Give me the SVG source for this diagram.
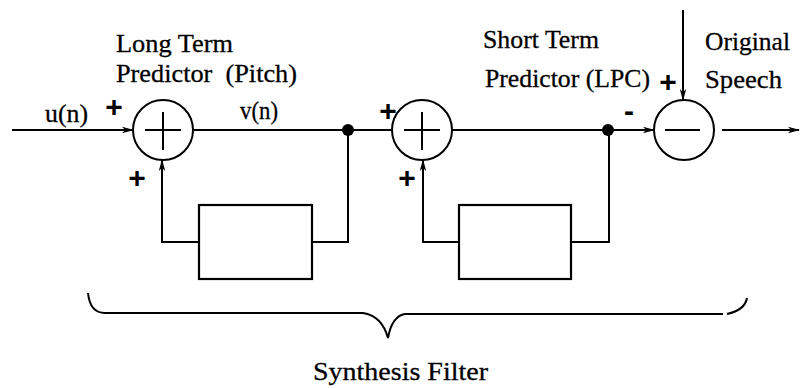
<svg xmlns="http://www.w3.org/2000/svg" width="801" height="388" viewBox="0 0 801 388">
<defs>
<marker id="arr" viewBox="0 0 12 8" refX="11" refY="4" markerWidth="12" markerHeight="8" markerUnits="userSpaceOnUse" orient="auto">
<path d="M0,0.8 L12,4 L0,7.2 L3,4 Z" fill="#000"/>
</marker>
</defs>
<style>
.ln{fill:none;stroke:#000;stroke-width:2}
.sum{fill:#fff;stroke:#000;stroke-width:2}
.box{fill:#fff;stroke:#000;stroke-width:2.2}
.t{font-family:"Liberation Serif","Times New Roman",serif;font-size:26px;fill:#000;stroke:#000;stroke-width:0.3}
.pl{font-family:"Liberation Sans",Arial,sans-serif;font-size:30px;font-weight:bold;fill:#000}
</style>
<rect width="801" height="388" fill="#fff"/>
<g id="connectors">
<line class="ln" x1="12" y1="130" x2="133" y2="130" marker-end="url(#arr)"/>
<line class="ln" x1="193" y1="130" x2="392" y2="130"/>
<line class="ln" x1="452" y1="130" x2="654" y2="130" marker-end="url(#arr)"/>
<line class="ln" x1="722" y1="130" x2="799" y2="130" marker-end="url(#arr)"/>
<line class="ln" x1="683" y1="10" x2="683" y2="100" marker-end="url(#arr)"/>
<polyline class="ln" points="348,130 348,242 312,242"/>
<polyline class="ln" points="199,242 162,242 162,160" marker-end="url(#arr)"/>
<polyline class="ln" points="609,130 609,242 571,242"/>
<polyline class="ln" points="459,242 423,242 423,160" marker-end="url(#arr)"/>
<circle cx="348" cy="130" r="6" fill="#000"/>
<circle cx="608" cy="130" r="6" fill="#000"/>
</g>
<g id="sum1">
<circle class="sum" cx="163" cy="130" r="30"/>
<path class="ln" d="M145,130 H181 M163,112 V150"/>
</g>
<g id="sum2">
<circle class="sum" cx="422" cy="130" r="30"/>
<path class="ln" d="M404,130 H440 M422,112 V150"/>
</g>
<g id="diff">
<circle class="sum" cx="684" cy="130" r="30"/>
<path class="ln" d="M665,130 H700"/>
</g>
<g id="ltp-box"><rect class="box" x="199" y="205" width="113" height="74"/></g>
<g id="stp-box"><rect class="box" x="459" y="205" width="112" height="74"/></g>
<g id="brace">
<path class="ln" d="M88,293 Q90,313 105,313 H363 Q382,316 388,338 Q392,316 405,314 H723"/>
<path class="ln" d="M727,314 Q745,310 747,298"/>
</g>
<g id="labels">
<text class="t" x="116" y="52" textLength="117" lengthAdjust="spacingAndGlyphs">Long Term</text>
<text class="t" x="116" y="82" textLength="181" lengthAdjust="spacingAndGlyphs" xml:space="preserve">Predictor  (Pitch)</text>
<text class="t" x="45" y="122" textLength="43" lengthAdjust="spacingAndGlyphs">u(n)</text>
<text class="t" x="240" y="119" textLength="38" lengthAdjust="spacingAndGlyphs">v(n)</text>
<text class="t" x="483" y="48" textLength="116" lengthAdjust="spacingAndGlyphs">Short Term</text>
<text class="t" x="485" y="87" textLength="165" lengthAdjust="spacingAndGlyphs">Predictor (LPC)</text>
<text class="t" x="705" y="50" textLength="85" lengthAdjust="spacingAndGlyphs">Original</text>
<text class="t" x="705" y="88" textLength="77" lengthAdjust="spacingAndGlyphs">Speech</text>
<text class="t" x="313" y="380" textLength="175" lengthAdjust="spacingAndGlyphs">Synthesis Filter</text>
<text class="pl" x="114" y="117" text-anchor="middle">+</text>
<text class="pl" x="137" y="188" text-anchor="middle">+</text>
<text class="pl" x="388" y="121" text-anchor="middle">+</text>
<text class="pl" x="407" y="188" text-anchor="middle">+</text>
<text class="pl" x="668" y="92" text-anchor="middle">+</text>
<text class="pl" x="629" y="121" text-anchor="middle">-</text>
</g>
</svg>
